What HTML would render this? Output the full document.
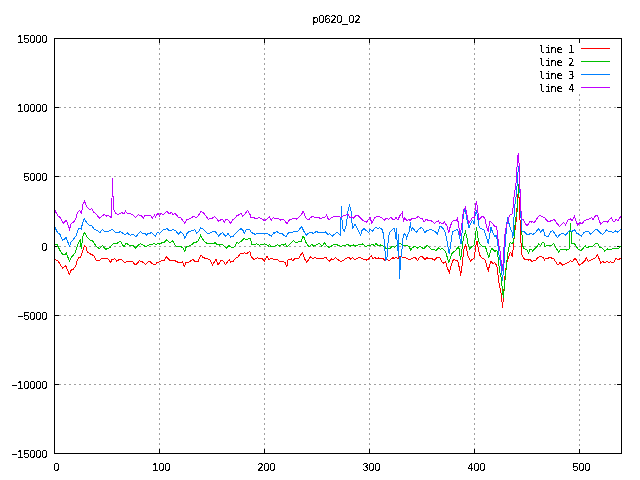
<!DOCTYPE html>
<html><head><meta charset="utf-8"><title>p0620_02</title>
<style>
html,body{margin:0;padding:0;background:#fff;}
svg{display:block;}
text{font-family:"Liberation Sans",sans-serif;font-size:10.67px;fill:#000;}
text.k{font-family:"DejaVu Sans Mono","Liberation Mono",monospace;font-size:10px;}
</style></head><body>
<svg width="640" height="480" viewBox="0 0 640 480">
<defs><filter id="bw" x="-5%" y="-20%" width="110%" height="140%" color-interpolation-filters="sRGB"><feComponentTransfer><feFuncA type="discrete" tableValues="0 0 1 1 1"/></feComponentTransfer></filter></defs>
<rect width="640" height="480" fill="#fff"/>
<g shape-rendering="crispEdges" fill="none">

<g stroke="#a0a0a0" stroke-width="1" stroke-dasharray="2 3">
<line x1="54" y1="107.5" x2="621" y2="107.5"/>
<line x1="54" y1="176.5" x2="621" y2="176.5"/>
<line x1="54" y1="246.5" x2="621" y2="246.5"/>
<line x1="54" y1="315.5" x2="621" y2="315.5"/>
<line x1="54" y1="384.5" x2="621" y2="384.5"/>
<line x1="159.5" y1="38" x2="159.5" y2="453"/>
<line x1="264.5" y1="38" x2="264.5" y2="453"/>
<line x1="369.5" y1="38" x2="369.5" y2="453"/>
<line x1="474.5" y1="38" x2="474.5" y2="453"/>
<line x1="579.5" y1="94" x2="579.5" y2="453"/>
</g>
<g stroke="#000" stroke-width="1">
<line x1="54" y1="107.5" x2="59" y2="107.5"/>
<line x1="617" y1="107.5" x2="622" y2="107.5"/>
<line x1="54" y1="176.5" x2="59" y2="176.5"/>
<line x1="617" y1="176.5" x2="622" y2="176.5"/>
<line x1="54" y1="246.5" x2="59" y2="246.5"/>
<line x1="617" y1="246.5" x2="622" y2="246.5"/>
<line x1="54" y1="315.5" x2="59" y2="315.5"/>
<line x1="617" y1="315.5" x2="622" y2="315.5"/>
<line x1="54" y1="384.5" x2="59" y2="384.5"/>
<line x1="617" y1="384.5" x2="622" y2="384.5"/>
<line x1="159.5" y1="449" x2="159.5" y2="454"/>
<line x1="159.5" y1="38" x2="159.5" y2="43"/>
<line x1="264.5" y1="449" x2="264.5" y2="454"/>
<line x1="264.5" y1="38" x2="264.5" y2="43"/>
<line x1="369.5" y1="449" x2="369.5" y2="454"/>
<line x1="369.5" y1="38" x2="369.5" y2="43"/>
<line x1="474.5" y1="449" x2="474.5" y2="454"/>
<line x1="474.5" y1="38" x2="474.5" y2="43"/>
<line x1="579.5" y1="449" x2="579.5" y2="454"/>
<line x1="579.5" y1="38" x2="579.5" y2="43"/>
</g>
<polyline stroke="#ff0000" stroke-width="1" points="54.0,259.0 55.0,259.4 58.1,261.2 62.5,268.1 65.6,265.6 67.5,270.0 69.4,274.4 71.2,270.0 73.1,269.4 75.6,266.2 77.2,260.0 79.0,257.5 80.6,257.5 82.8,250.6 84.4,245.6 86.0,246.9 87.2,251.9 90.6,254.0 93.8,255.6 96.2,260.0 99.4,260.6 101.2,258.5 107.5,258.5 110.6,262.2 111.9,259.8 115.0,258.8 116.9,261.2 119.4,259.4 121.9,260.0 124.8,262.5 127.5,261.5 130.0,261.8 132.2,261.4 135.0,264.5 136.9,263.9 139.4,260.8 142.5,262.0 145.6,264.2 148.1,262.0 150.0,261.4 151.9,263.2 155.0,265.1 156.9,262.6 160.0,261.8 161.9,260.1 164.4,260.1 166.6,256.4 168.8,259.5 170.6,260.8 172.5,260.1 175.0,260.8 177.5,262.0 179.4,262.6 182.5,262.0 184.4,266.4 186.2,262.0 187.8,262.6 190.0,261.4 193.1,259.5 195.0,261.4 198.1,262.0 199.4,258.2 201.0,254.8 202.5,257.0 205.0,258.2 208.1,258.9 210.0,260.1 212.5,265.1 215.0,260.8 216.0,259.5 218.1,265.1 220.6,260.8 222.5,260.1 225.6,264.5 227.5,262.0 229.4,259.5 230.6,262.0 233.1,261.4 235.6,258.2 238.1,257.0 240.6,253.2 243.1,253.9 244.4,252.6 246.2,253.9 249.8,251.4 251.2,256.4 253.8,259.5 257.5,257.6 259.4,258.9 261.2,258.0 264.4,260.8 266.9,256.4 268.8,259.5 271.2,258.2 274.4,259.5 276.9,259.5 280.0,261.4 283.1,261.4 285.0,262.6 286.9,266.8 288.1,259.5 290.0,259.4 291.5,258.8 292.8,261.0 294.4,258.8 296.2,258.1 298.8,258.1 300.6,255.0 302.2,252.5 303.8,256.2 305.0,259.4 306.5,262.2 308.5,259.8 310.6,256.5 312.5,258.5 315.0,257.8 318.8,258.5 322.5,258.5 325.6,257.2 327.5,259.4 329.8,261.2 331.5,259.0 333.1,260.2 335.2,257.5 337.5,259.4 340.6,261.5 343.8,260.0 347.5,257.5 349.4,257.8 350.9,259.4 352.5,257.8 354.8,260.0 357.5,258.1 360.0,257.5 363.1,259.0 366.2,260.2 368.8,258.8 370.0,257.2 371.2,255.6 373.1,258.5 375.0,257.5 376.2,259.0 378.1,257.8 380.0,258.8 382.5,258.1 385.0,260.6 386.9,259.4 388.8,260.6 390.6,259.4 393.1,257.5 394.4,258.8 396.2,257.2 397.8,259.0 399.4,256.9 401.2,256.2 403.1,258.1 405.0,257.5 407.5,258.8 410.0,259.4 413.1,258.1 415.0,257.2 416.2,258.8 417.5,260.6 419.4,257.5 421.9,256.2 425.0,259.4 426.9,257.5 428.8,259.0 430.6,258.1 434.4,260.0 436.9,257.8 439.4,257.5 440.0,258.1 441.9,261.9 443.8,263.3 445.6,261.9 447.5,268.4 449.4,272.2 451.2,265.6 452.7,260.9 454.1,259.5 455.9,260.5 457.8,260.5 459.2,267.5 460.6,274.1 461.6,271.2 462.5,260.9 463.9,249.7 465.5,244.1 466.7,249.7 468.1,256.2 470.5,260.9 472.3,259.1 473.9,258.6 475.1,251.6 476.1,244.1 477.0,240.8 478.4,248.8 479.8,255.3 481.7,257.7 483.6,258.6 485.5,260.9 486.9,266.6 488.3,270.3 489.7,264.7 491.1,261.4 493.4,263.8 494.8,262.3 496.0,264.5 497.0,267.0 498.0,275.0 499.0,283.0 500.0,288.0 501.0,293.0 502.0,302.0 502.5,308.0 503.0,302.0 504.0,289.0 505.0,276.0 506.0,268.0 507.0,262.0 508.0,259.0 509.0,256.0 510.0,253.0 510.5,252.5 511.5,253.8 512.3,257.0 513.0,250.5 514.0,239.0 515.0,230.0 516.0,222.0 517.0,208.0 517.5,194.2 518.0,194.5 519.0,197.0 520.0,220.0 521.0,243.0 521.6,254.0 522.5,256.5 525.1,260.1 527.0,259.2 528.4,260.1 529.8,259.2 532.2,262.0 533.6,260.6 535.9,260.1 537.8,257.3 541.1,256.4 543.0,257.3 544.4,260.1 545.0,258.9 547.5,258.2 550.6,257.6 553.8,258.9 556.2,262.6 558.1,265.1 560.0,262.6 562.5,265.1 565.6,263.9 568.1,262.6 570.6,260.8 572.2,262.0 575.0,258.2 576.9,260.8 579.4,265.1 582.5,263.2 584.8,260.8 586.5,257.6 588.1,261.4 590.6,260.1 593.1,258.9 595.6,257.6 597.5,254.5 599.4,259.5 600.6,263.2 602.8,261.4 605.0,263.2 606.9,261.4 608.8,262.6 610.6,261.8 613.1,263.2 616.2,258.2 618.1,260.1 620.6,258.2"/>
<polyline stroke="#00c000" stroke-width="1" points="54.0,244.4 55.0,244.4 56.9,244.4 59.4,249.4 62.5,254.4 65.0,254.4 66.5,253.1 67.8,256.9 69.4,261.2 71.2,257.5 75.0,253.1 76.9,246.9 79.0,241.9 80.4,239.8 81.2,249.4 82.8,236.9 84.4,232.5 86.9,236.9 90.0,240.0 93.1,241.2 95.6,245.6 99.4,248.8 102.5,245.6 105.6,249.4 110.0,247.5 113.1,243.8 116.2,243.8 118.1,242.5 120.6,241.2 123.8,246.9 126.2,243.1 130.0,245.8 133.1,245.1 135.2,248.2 137.5,245.8 140.6,243.5 142.5,244.8 145.0,246.4 147.5,245.8 150.0,244.5 151.9,245.1 153.8,243.5 156.2,244.5 158.1,243.5 160.0,244.2 161.9,242.6 164.4,242.2 166.6,239.8 168.8,241.8 170.6,242.6 172.5,241.0 174.4,243.5 175.6,246.0 178.8,246.4 181.2,246.8 183.1,248.2 184.8,251.4 186.2,246.8 189.4,245.8 191.9,244.5 193.8,242.6 196.2,242.2 198.5,240.8 199.4,238.2 200.6,235.5 202.5,238.9 204.8,242.0 206.9,243.2 210.0,243.9 213.1,243.9 215.2,242.6 216.9,244.5 219.4,245.1 221.9,243.9 224.4,246.4 226.9,248.2 228.8,245.5 230.6,247.0 233.1,248.0 235.6,245.1 236.9,242.6 238.8,243.2 241.9,240.8 244.4,238.2 246.2,240.1 249.8,238.2 250.6,239.5 251.9,244.2 254.4,244.5 256.9,243.9 259.4,245.1 261.9,244.2 265.0,243.9 266.9,244.5 268.1,246.4 269.4,244.5 271.2,246.8 275.0,246.0 277.5,244.5 279.4,246.0 281.9,244.2 283.8,245.1 285.4,243.5 287.2,247.0 288.8,245.1 290.0,243.8 291.9,241.9 293.5,240.6 295.6,242.2 297.5,242.5 299.4,241.2 301.2,241.5 302.9,236.5 304.4,238.1 305.6,241.9 307.5,245.0 309.0,246.9 311.9,244.4 313.8,246.2 316.2,245.0 319.4,243.5 321.9,246.2 324.4,242.8 326.2,245.0 327.5,246.2 329.4,247.8 331.2,246.2 333.8,244.4 336.9,244.8 339.4,245.6 341.2,246.9 343.1,245.0 345.0,245.6 347.5,244.4 350.0,246.2 353.1,244.8 355.0,246.2 358.1,245.0 362.5,243.8 365.0,246.2 370.0,245.6 372.5,244.4 374.4,245.6 376.0,243.5 378.1,245.6 380.6,245.0 382.5,245.6 384.4,247.5 387.5,249.0 390.0,248.8 391.9,246.5 394.4,247.2 396.9,245.6 400.0,243.1 402.2,244.8 404.4,246.0 406.9,245.2 409.4,246.9 410.6,250.0 412.5,247.5 415.0,246.2 417.5,248.1 420.0,246.2 423.8,249.0 425.6,246.9 427.5,245.2 430.6,249.0 433.8,249.4 436.2,250.6 438.8,247.5 440.0,249.2 442.3,248.8 444.7,250.2 446.1,253.4 447.5,258.1 448.9,262.3 450.3,258.1 451.7,253.9 453.6,252.0 455.5,250.6 457.3,248.3 458.8,246.9 459.7,253.4 460.6,260.0 461.6,253.4 462.5,244.1 463.9,236.6 465.5,231.9 466.7,236.6 468.1,244.1 469.5,249.2 471.4,247.3 473.3,245.5 474.7,244.5 475.4,235.6 476.5,227.5 477.5,233.8 478.4,241.2 480.3,244.5 482.6,246.9 485.0,246.4 486.4,249.2 487.8,254.8 488.8,257.2 490.1,252.5 491.5,248.3 493.4,249.7 495.3,251.6 496.0,250.5 497.0,251.0 498.0,257.0 499.0,266.0 500.0,273.0 501.0,277.0 502.0,286.0 503.0,295.0 503.3,298.0 504.0,291.0 505.0,280.0 506.0,270.0 507.0,260.0 508.0,252.0 509.0,247.0 510.0,243.3 510.5,242.5 511.5,243.2 512.5,242.6 513.0,243.5 514.0,238.0 515.0,225.0 516.0,217.0 517.0,212.0 518.0,199.0 518.5,184.2 519.0,186.0 520.0,192.5 521.0,217.0 522.0,234.5 523.0,246.5 523.8,248.3 525.0,249.0 527.0,250.2 528.4,253.1 529.8,249.8 531.7,249.4 532.6,250.8 535.0,248.4 537.3,246.1 538.7,243.8 540.6,245.6 542.5,242.3 543.9,242.8 545.0,247.0 547.5,245.1 550.0,246.0 551.9,245.1 553.8,243.5 555.6,247.0 558.5,252.0 560.6,249.5 563.1,248.9 566.2,250.1 569.4,248.9 569.6,235.8 570.6,223.2 571.2,235.8 571.9,243.2 574.4,243.5 576.2,246.4 578.1,248.9 581.2,250.5 583.8,247.6 585.2,245.8 586.9,248.2 588.8,246.8 592.5,246.4 595.0,243.9 597.5,243.5 600.0,247.6 602.5,248.2 604.8,251.4 607.5,248.9 610.6,249.5 613.1,248.5 616.2,248.9 618.8,248.2 620.6,245.8"/>
<polyline stroke="#0080ff" stroke-width="1" points="54.0,226.0 55.0,227.5 57.5,232.5 60.0,234.4 62.5,240.0 64.4,239.4 66.2,237.2 67.5,241.2 69.4,246.2 71.2,241.9 73.8,238.8 76.2,235.6 78.1,229.4 79.8,228.1 81.2,228.8 83.1,221.2 84.4,218.5 86.9,223.1 90.0,225.6 91.9,226.0 93.8,228.8 96.2,230.0 100.0,232.5 102.5,229.4 105.0,231.9 108.8,231.2 112.5,229.4 115.0,232.2 118.1,233.1 120.2,231.5 122.5,233.1 125.0,235.0 127.5,233.1 130.0,235.1 133.8,234.5 136.0,236.8 138.1,233.9 140.6,231.4 143.1,233.9 145.0,233.5 146.5,235.1 148.1,233.2 150.0,233.5 151.2,232.6 153.8,234.5 155.6,236.4 156.9,233.2 158.5,232.6 159.8,233.2 162.8,230.1 165.0,229.5 166.9,228.5 168.8,230.5 171.2,230.8 173.1,229.2 175.6,230.8 178.8,234.5 180.6,231.4 183.1,233.9 184.8,238.2 187.2,233.2 189.4,231.4 192.5,230.8 194.8,229.5 196.9,233.2 198.8,231.4 200.6,227.6 203.8,229.5 205.0,230.8 207.5,233.9 210.0,233.2 213.1,231.4 215.6,232.0 218.5,236.0 220.6,233.9 222.5,232.6 225.6,236.4 228.1,233.5 230.6,237.2 233.1,236.4 235.6,233.2 238.1,230.8 241.2,228.5 242.8,230.1 244.4,233.2 246.2,229.8 249.4,229.5 251.2,232.0 253.1,233.5 255.0,234.2 258.1,233.2 260.0,233.9 262.5,233.2 265.0,233.9 267.5,233.5 271.2,236.4 273.8,232.6 275.0,233.2 276.9,231.4 280.0,233.9 282.5,233.9 286.0,237.2 288.1,233.2 290.0,231.9 291.9,232.5 294.4,231.2 297.5,231.9 299.4,229.4 301.5,226.5 303.8,231.2 306.2,235.2 308.8,233.1 311.2,232.2 313.1,233.5 316.2,231.5 320.0,233.1 323.1,232.2 325.6,231.9 328.1,235.0 329.4,233.8 332.5,236.0 334.4,234.4 336.9,232.2 338.8,234.0 340.4,235.2 340.9,220.0 341.4,206.2 342.0,220.0 342.5,228.1 344.4,231.2 346.2,225.0 348.1,210.0 349.4,205.6 350.9,210.0 351.9,222.5 352.9,228.1 355.0,224.4 356.9,227.5 358.8,231.9 360.6,235.0 361.9,230.6 363.8,228.5 366.2,230.6 368.8,232.5 370.0,229.0 372.5,231.2 375.6,227.2 377.5,228.5 380.0,227.8 382.5,230.0 383.8,236.2 384.8,247.5 385.6,260.0 386.9,259.4 387.5,250.0 388.5,236.2 390.0,231.9 392.5,229.5 394.3,228.3 395.0,232.0 395.7,239.0 396.5,228.0 397.5,251.0 398.5,234.0 399.5,279.4 400.5,262.0 401.2,255.0 402.8,242.5 403.1,236.2 404.4,233.8 405.6,234.4 406.5,238.8 408.1,233.8 409.4,231.2 410.6,221.9 411.2,231.2 412.2,227.8 413.8,229.4 416.2,232.2 418.8,229.4 421.2,227.2 423.1,229.0 424.8,232.5 426.9,230.6 431.2,229.4 435.0,231.5 437.5,234.0 439.4,227.8 440.0,226.2 442.5,227.5 445.0,231.9 446.5,237.5 448.0,246.9 449.2,254.4 450.3,246.9 451.7,237.5 452.5,231.9 454.4,230.6 457.5,229.4 458.8,233.8 459.7,237.5 461.1,244.1 461.9,235.0 463.1,217.5 464.4,210.0 465.6,211.2 466.9,220.0 469.0,227.5 471.2,222.5 472.8,220.0 474.0,223.8 475.2,215.0 476.5,210.6 477.5,216.9 479.0,226.2 480.6,228.8 483.8,229.4 486.2,236.2 488.4,244.0 489.4,236.2 491.0,227.5 492.5,231.9 494.8,236.9 496.0,235.0 497.0,238.5 498.0,246.0 499.0,255.0 500.0,260.0 501.0,266.0 502.0,275.0 502.5,281.0 503.0,275.0 504.0,263.0 505.0,247.0 506.0,234.0 507.0,222.0 507.5,217.3 508.0,221.0 509.0,223.5 510.0,227.0 511.0,230.0 512.0,231.8 512.9,238.3 514.0,217.0 515.0,204.0 516.0,197.0 517.0,186.0 518.0,172.0 518.5,166.2 519.0,170.0 520.0,192.5 521.0,218.0 521.9,230.5 522.6,231.6 524.5,232.0 525.5,233.3 527.0,234.3 528.4,234.8 530.3,233.4 533.1,234.4 535.9,232.0 538.5,228.6 540.6,232.0 543.0,229.2 544.8,234.4 545.0,235.8 548.1,236.4 550.6,232.0 552.5,230.5 555.0,233.9 557.5,237.6 560.0,234.2 563.1,233.2 565.6,235.1 568.1,232.0 570.0,230.1 571.9,231.4 574.4,229.5 576.9,233.2 579.4,234.5 581.2,236.4 583.8,232.6 586.9,231.4 588.8,232.0 590.6,234.2 593.1,232.0 595.6,229.5 597.5,229.8 600.0,232.6 602.8,234.5 605.0,232.0 606.5,229.8 608.8,231.4 611.2,231.4 613.1,233.2 615.0,230.8 617.5,232.0 620.6,229.5"/>
<polyline stroke="#c000ff" stroke-width="1" points="54.0,210.0 55.0,210.6 57.8,215.6 60.6,218.1 63.1,223.5 66.2,220.4 67.5,223.1 69.4,229.4 71.2,223.8 73.1,222.5 75.6,219.4 77.5,212.5 79.6,210.2 81.5,213.1 83.1,203.8 84.4,201.2 86.9,206.9 90.0,209.8 91.9,208.5 93.8,212.5 95.6,213.5 99.4,218.1 104.4,214.4 106.2,216.2 108.1,215.2 111.3,217.5 112.0,198.0 112.5,178.0 113.0,196.0 113.8,210.0 116.2,213.8 118.1,214.4 121.9,212.5 123.8,213.8 125.6,211.2 127.5,213.5 130.0,213.2 133.1,215.1 135.6,217.6 138.1,214.8 141.2,215.8 143.5,218.2 144.8,215.1 147.5,215.8 150.6,215.5 152.5,218.2 154.4,215.1 155.6,217.0 157.8,213.2 159.4,215.8 161.2,213.2 163.1,215.1 166.9,211.4 169.4,213.9 171.2,212.2 173.1,214.5 175.0,213.2 178.1,217.0 180.6,217.6 184.8,223.2 186.9,219.5 190.0,218.9 193.8,216.0 196.0,218.2 198.1,215.8 201.0,211.4 203.8,213.2 206.2,216.4 208.1,219.2 210.0,218.5 212.5,218.2 214.4,216.4 216.9,218.9 218.8,221.4 221.2,219.5 222.5,219.2 224.4,222.0 226.0,219.5 227.5,219.5 230.6,223.0 232.5,220.1 234.4,218.9 236.9,215.8 239.4,214.5 241.2,213.5 242.8,216.4 245.0,213.9 247.5,210.5 249.8,213.9 251.2,218.0 253.1,217.0 255.0,218.5 257.5,218.2 259.4,217.6 261.9,218.9 264.4,220.8 266.9,218.9 269.4,216.8 271.2,220.1 273.1,217.6 275.0,218.5 278.1,218.5 280.6,220.1 283.8,219.5 286.9,223.9 288.8,220.8 290.0,219.4 293.1,218.8 295.6,218.1 296.9,219.4 300.0,216.2 301.9,213.8 302.9,211.2 304.4,213.8 305.6,217.5 307.5,219.4 308.8,220.0 310.6,217.5 312.5,216.5 315.0,217.5 318.8,217.5 321.2,219.0 323.1,217.2 325.0,217.2 326.5,215.2 328.1,218.8 329.4,219.4 331.2,218.1 333.8,216.5 339.4,216.2 341.2,218.1 343.1,215.6 346.2,215.0 348.1,214.4 350.0,217.5 351.9,216.9 353.8,218.1 356.2,215.2 358.1,215.6 361.2,218.8 364.4,221.5 366.2,222.2 368.8,219.4 370.0,217.5 371.9,223.1 374.4,218.1 377.5,216.2 381.2,217.5 384.4,220.0 386.2,218.1 388.8,219.4 390.6,217.2 393.8,220.0 396.2,217.5 397.8,220.0 400.0,215.6 402.2,212.5 403.5,221.9 404.4,218.1 406.9,220.6 408.8,219.4 410.0,220.6 411.9,218.5 415.0,218.8 418.5,216.2 420.6,218.8 422.5,218.8 424.0,221.9 426.2,219.4 428.8,220.6 431.2,220.6 434.4,223.5 436.2,221.9 438.5,221.0 439.4,223.1 440.0,222.5 442.5,223.8 444.4,222.2 446.9,225.6 448.8,232.5 450.0,227.5 451.9,221.9 453.8,220.0 456.2,221.0 457.5,218.5 458.8,226.2 460.2,236.0 461.9,223.8 463.5,210.0 465.6,207.2 466.9,215.0 468.8,223.1 471.2,219.4 473.1,216.9 474.4,218.1 475.4,206.2 476.5,201.2 477.5,208.8 479.0,220.0 480.6,217.5 483.1,216.2 485.0,218.8 486.9,228.1 488.1,231.2 490.0,221.2 491.9,222.5 494.4,226.2 496.2,226.9 497.0,230.0 498.0,239.0 499.0,246.0 500.0,251.0 501.0,260.0 502.0,265.5 502.5,271.0 503.0,264.0 504.0,247.0 505.0,234.0 506.0,228.0 507.0,224.0 508.0,221.0 509.0,217.0 510.0,215.0 511.0,214.4 512.0,213.8 513.0,208.0 514.0,197.0 515.0,190.0 516.0,183.0 517.0,167.0 518.0,155.0 518.5,153.2 519.0,163.0 520.0,189.0 521.0,211.0 522.0,219.0 523.5,219.8 524.5,222.0 525.5,224.0 527.0,225.6 528.5,224.0 529.5,222.0 531.0,221.5 531.5,222.0 532.6,221.1 534.0,223.0 535.9,220.1 539.2,215.5 542.0,216.4 545.0,218.2 548.1,221.8 551.2,220.8 554.4,219.5 556.9,223.2 559.4,226.4 561.9,223.9 563.8,222.6 565.6,225.1 568.1,220.1 570.6,218.9 571.9,220.8 574.4,216.4 576.2,222.0 577.8,225.1 579.8,222.6 581.9,223.9 584.4,220.8 586.9,219.5 590.0,218.9 591.9,217.6 593.1,219.5 595.6,215.5 597.5,216.0 599.0,220.1 600.6,223.9 603.1,222.0 605.6,221.4 607.5,222.0 611.2,217.6 613.8,222.0 616.2,219.5 618.1,220.8 620.6,216.4"/>
<line x1="581" y1="48.5" x2="610" y2="48.5" stroke="#ff0000"/>
<line x1="581" y1="61.5" x2="610" y2="61.5" stroke="#00c000"/>
<line x1="581" y1="74.5" x2="610" y2="74.5" stroke="#0080ff"/>
<line x1="581" y1="87.5" x2="610" y2="87.5" stroke="#c000ff"/>
<g stroke="#000" stroke-width="1">
<rect x="54.5" y="38.5" width="567" height="415"/>
</g></g>
<g filter="url(#bw)">
<text x="312.5 318.5 324.5 330.5 336.5 342.5 348.5 354.5" y="23">p0620_02</text>
<text x="17.5 23.5 29.5 35.5 41.5" y="43">15000</text>
<text x="17.5 23.5 29.5 35.5 41.5" y="112">10000</text>
<text x="23.5 29.5 35.5 41.5" y="181">5000</text>
<text x="41.5" y="251">0</text>
<text x="17.5 23.5 29.5 35.5 41.5" y="320"><tspan dy="-1" textLength="6.5" lengthAdjust="spacingAndGlyphs">-</tspan><tspan dy="1">5000</tspan></text>
<text x="11.5 17.5 23.5 29.5 35.5 41.5" y="389"><tspan dy="-1" textLength="6.5" lengthAdjust="spacingAndGlyphs">-</tspan><tspan dy="1">10000</tspan></text>
<text x="11.5 17.5 23.5 29.5 35.5 41.5" y="458"><tspan dy="-1" textLength="6.5" lengthAdjust="spacingAndGlyphs">-</tspan><tspan dy="1">15000</tspan></text>
<text x="53.5" y="471">0</text>
<text x="152.5 158.5 164.5" y="471">100</text>
<text x="257.5 263.5 269.5" y="471">200</text>
<text x="362.5 368.5 374.5" y="471">300</text>
<text x="467.5 473.5 479.5" y="471">400</text>
<text x="572.5 578.5 584.5" y="471">500</text>
<text class="k" x="539.1 545.1 550.6 556.6 563.1 568.2" y="53">line 1</text>
<text class="k" x="539.1 545.1 550.6 556.6 563.1 568.2" y="66">line 2</text>
<text class="k" x="539.1 545.1 550.6 556.6 563.1 568.2" y="79">line 3</text>
<text class="k" x="539.1 545.1 550.6 556.6 563.1 568.2" y="92">line 4</text>
</g>
</svg></body></html>
